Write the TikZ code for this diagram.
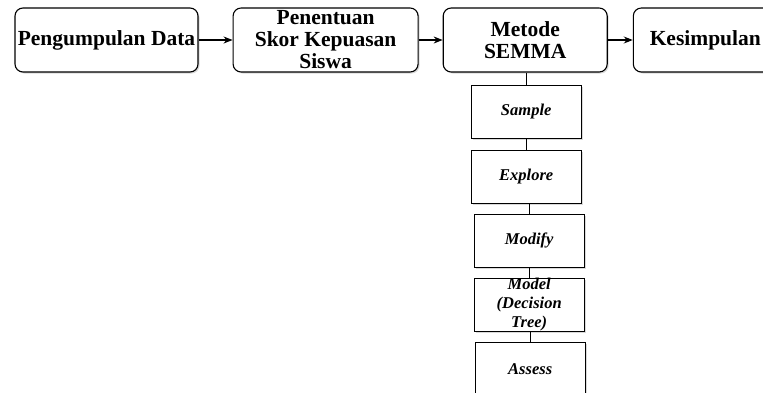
\documentclass[tikz,border=0pt]{standalone}
\usepackage{fontspec}
\setmainfont{Liberation Serif}
\usetikzlibrary{arrows,arrows.meta,positioning,shadows}

\begin{document}
\begin{tikzpicture}[->,>={Stealth[length=9pt,width=7pt]}, x=1pt, y=1pt, line width=1.1pt,
    mainbox/.style={draw, rounded corners=8pt, fill=white, minimum height=64pt,
      inner sep=0pt, align=center, font=\fontsize{21.5}{22}\selectfont\bfseries,
      drop shadow={shadow xshift=1.5pt, shadow yshift=-1.5pt, opacity=0.3}},
    subbox/.style={draw, fill=white, minimum width=110pt, minimum height=53pt,
      inner sep=0pt, align=center, font=\fontsize{16.5}{19}\selectfont\bfseries\itshape,
      drop shadow={shadow xshift=1.5pt, shadow yshift=-1.5pt, opacity=0.3}}
    ]
\useasboundingbox (0,0) rectangle (763,-392);
% main flow
\node[mainbox, minimum width=183pt] (data) at (106.5,-40) {Pengumpulan Data};
\node[mainbox, minimum width=185pt] (skor) [right=34pt of data] {Penentuan\\Skor Kepuasan\\Siswa};
\node[mainbox, minimum width=164pt] (semma) [right=24pt of skor] {Metode\\SEMMA};
\node[mainbox, minimum width=144pt] (simpulan) [right=25pt of semma] {Kesimpulan};

% SEMMA steps
\node[subbox, xshift=1pt] (sample) [below=12pt of semma] {Sample};
\node[subbox] (explore) [below=11pt of sample] {Explore};
\node[subbox, xshift=3pt] (modify) [below=10pt of explore] {Modify};
\node[subbox] (model) [below=10pt of modify] {Model\\(Decision\\Tree)};
\node[subbox, xshift=1pt] (assess) [below=10pt of model] {Assess};

\path
(data) edge (skor)
(skor) edge (semma)
(semma) edge (simpulan)
;
\draw[-] (sample.north) -- (sample.north |- semma.south);
\draw[-] (explore.north) -- (explore.north |- sample.south);
\draw[-] (modify.north) -- (modify.north |- explore.south);
\draw[-] (model.north) -- (model.north |- modify.south);
\draw[-] (assess.north) -- (assess.north |- model.south);
\end{tikzpicture}
\end{document}
